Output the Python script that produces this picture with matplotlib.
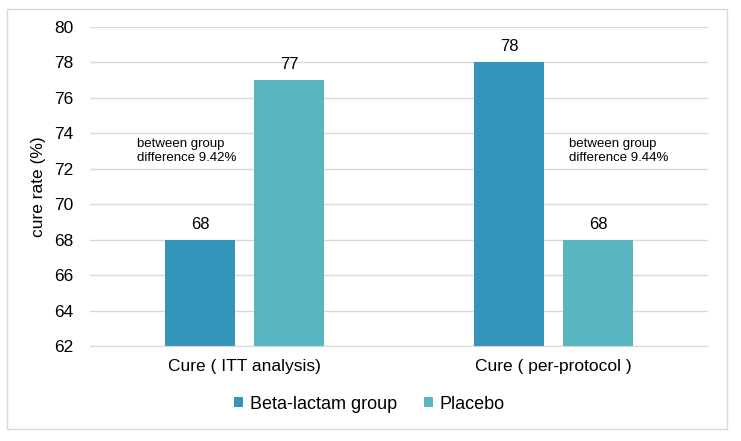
import matplotlib.pyplot as plt
from matplotlib.patches import Rectangle
import numpy as np

plt.rcParams['font.family'] = ['Liberation Sans', 'DejaVu Sans']

categories = ['Cure ( ITT analysis)', 'Cure ( per-protocol )']
beta_lactam = [68, 78]
placebo = [77, 68]
notes = ['between group\ndifference 9.42%', 'between group\ndifference 9.44%']

c_beta = '#3494BA'
c_plac = '#58B6C0'

fig = plt.figure(figsize=(7.41, 4.41), dpi=100)
ax = fig.add_axes([0.1215, 0.2154, 0.834, 0.7234])

x = np.arange(len(categories))
w = 0.2265
off = 0.144
b1 = ax.bar(x - off, beta_lactam, w, color=c_beta, label='Beta-lactam group', zorder=2)
b2 = ax.bar(x + off, placebo, w, color=c_plac, label='Placebo', zorder=2)

for bars in (b1, b2):
    for r in bars:
        ax.text(r.get_x() + r.get_width() / 2, r.get_height() + 0.45, f'{r.get_height():g}',
                ha='center', va='bottom', fontsize=12)

# annotations next to the groups
ax.text(x[0] - 0.348, 73.0, notes[0], ha='left', va='center', fontsize=9.5, linespacing=1.2)
ax.text(x[1] + 0.05, 73.0, notes[1], ha='left', va='center', fontsize=9.5, linespacing=1.2)

ax.set_ylim(62, 80)
ax.set_xlim(-0.5, 1.5)
ax.set_yticks(range(62, 81, 2))
ax.set_xticks(x)
ax.set_xticklabels(categories)
ax.tick_params(axis='both', length=0, labelsize=12.5)
ax.tick_params(axis='x', pad=9)
ax.tick_params(axis='y', pad=12)
ax.set_ylabel('cure rate (%)', fontsize=12.5, labelpad=6)
ax.yaxis.grid(True, color='#D9D9D9', linewidth=1, zorder=0)
for s in ['top', 'right', 'left']:
    ax.spines[s].set_visible(False)
ax.spines['bottom'].set_color('#D9D9D9')

ax.legend(loc='center', bbox_to_anchor=(0.452, -0.182), ncol=2, frameon=False,
          fontsize=13, handlelength=0.5, handleheight=0.5, handletextpad=0.35,
          columnspacing=1.5)

fig.patches.append(Rectangle((7 / 741, 12 / 441), 720 / 741, 420 / 441, transform=fig.transFigure,
                             fill=False, edgecolor='#D9D9D9', linewidth=1))

fig.savefig('out.png', dpi=100)
